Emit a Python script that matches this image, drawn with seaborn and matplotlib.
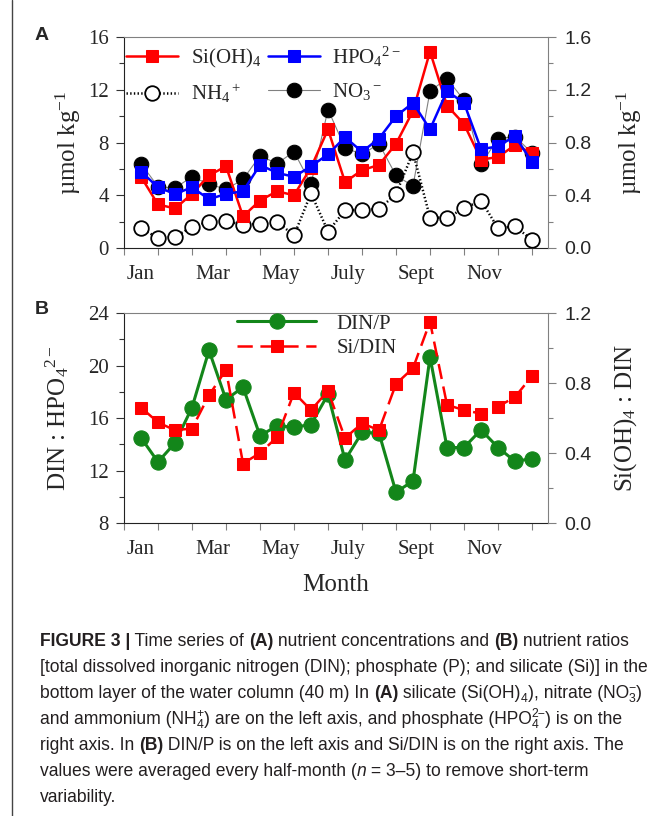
#import libraries
import seaborn as sns
import matplotlib.pyplot as plt
import numpy as np
import pandas as pd
from matplotlib.lines import Line2D
from matplotlib.ticker import FixedLocator, MultipleLocator, NullFormatter, FixedFormatter, FormatStrFormatter

#global style
sns.set_style("ticks")
plt.rcParams['font.family'] = ['Liberation Serif', 'DejaVu Serif']
plt.rcParams['mathtext.fontset'] = 'custom'
plt.rcParams['mathtext.rm'] = 'Liberation Serif'
plt.rcParams['mathtext.it'] = 'Liberation Serif:italic'
plt.rcParams['mathtext.bf'] = 'Liberation Serif:bold'
plt.rcParams['lines.scale_dashes'] = False

#data: half-month averages, Jan (first half) .. Dec (second half)
half_month = np.arange(1, 25) * 0.5
month_labels = ["Jan", "Mar", "May", "July", "Sept", "Nov"]
month_label_pos = [0.5, 2.6, 4.6, 6.6, 8.6, 10.6]

si_oh4 = [5.4, 3.3, 3.0, 4.1, 5.5, 6.2, 2.4, 3.6, 4.3, 4.0, 6.1, 9.0,
          5.0, 5.9, 6.3, 7.9, 10.4, 14.9, 10.8, 9.4, 6.7, 6.9, 7.8, 7.2]
hpo4 = [0.58, 0.46, 0.41, 0.46, 0.37, 0.41, 0.43, 0.63, 0.57, 0.54, 0.62, 0.71,
        0.84, 0.73, 0.83, 1.00, 1.10, 0.90, 1.19, 1.10, 0.75, 0.77, 0.85, 0.65]
no3 = [6.4, 4.65, 4.55, 5.4, 4.85, 4.45, 5.2, 7.0, 6.4, 7.3, 4.85, 10.5,
       7.6, 7.1, 7.9, 5.5, 4.7, 11.9, 12.85, 11.2, 6.35, 8.3, 8.45, 7.2]
nh4 = [1.5, 0.75, 0.85, 1.6, 2.0, 2.05, 1.75, 1.85, 2.0, 0.95, 4.15, 1.25,
       2.85, 2.9, 2.95, 4.1, 7.25, 2.3, 2.3, 3.0, 3.6, 1.5, 1.65, 0.6]
din_p = [14.5, 12.65, 14.1, 16.8, 21.15, 17.4, 18.35, 14.65, 15.4, 15.3, 15.5, 17.8,
         12.8, 14.9, 14.85, 10.35, 11.2, 20.65, 13.75, 13.75, 15.1, 13.75, 12.7, 12.9]
si_din = [0.66, 0.575, 0.53, 0.54, 0.73, 0.875, 0.34, 0.40, 0.49, 0.745, 0.645, 0.755,
          0.485, 0.57, 0.53, 0.795, 0.885, 1.15, 0.675, 0.645, 0.625, 0.665, 0.72, 0.84]

df_a = pd.DataFrame({"t": half_month, "si": si_oh4, "hpo4": hpo4, "no3": no3, "nh4": nh4})
df_b = pd.DataFrame({"t": half_month, "din_p": din_p, "si_din": si_din})

W, H = 668, 816
def fx(x):
    return x / W
def fy(y):
    return 1 - y / H

fig = plt.figure(figsize=(W / 100, H / 100), dpi=100)
ax_a = fig.add_axes([fx(124), fy(248), 424 / W, 211 / H])
ax_b = fig.add_axes([fx(124), fy(523), 424 / W, 210 / H])

RED = "#ff0000"
BLUE = "#0000ff"
GREEN = "#13861a"
GRAY = "#808080"

#panel A
sns.lineplot(data=df_a, x="t", y="no3", ax=ax_a, color=GRAY, lw=0.8,
             marker="o", markersize=10.5, markerfacecolor="black",
             markeredgecolor="black", legend=False)
no3_line = ax_a.lines[-1]
sns.lineplot(data=df_a, x="t", y="nh4", ax=ax_a, color="black", lw=1.8, linestyle=":",
             marker="o", markersize=10.5, markerfacecolor="white",
             markeredgecolor="black", markeredgewidth=1.3, legend=False)
nh4_line = ax_a.lines[-1]
sns.lineplot(data=df_a, x="t", y="si", ax=ax_a, color=RED, lw=1.8,
             marker="s", markersize=9, markerfacecolor=RED,
             markeredgecolor=RED, legend=False)
si_line = ax_a.lines[-1]

ax_a2 = ax_a.twinx()
sns.lineplot(data=df_a, x="t", y="hpo4", ax=ax_a2, color=BLUE, lw=1.8,
             marker="s", markersize=8, markerfacecolor=BLUE,
             markeredgecolor=BLUE, legend=False)
hpo4_line = ax_a2.lines[-1]

#panel B
sns.lineplot(data=df_b, x="t", y="din_p", ax=ax_b, color=GREEN, lw=2.2,
             marker="o", markersize=11, markerfacecolor=GREEN,
             markeredgecolor=GREEN, legend=False)
dinp_line = ax_b.lines[-1]
ax_b2 = ax_b.twinx()
sns.lineplot(data=df_b, x="t", y="si_din", ax=ax_b2, color=RED, lw=1.8,
             marker="s", markersize=9, markerfacecolor=RED,
             markeredgecolor=RED, legend=False)
sidin_line = ax_b2.lines[-1]
sidin_line.set_dashes((11, 5.5))

#axes styling
for ax, ax2, ylim, ylim2 in [(ax_a, ax_a2, (0, 16), (0, 1.6)),
                             (ax_b, ax_b2, (8, 24), (0, 1.2))]:
    ax.set_xlim(0, 12.47)
    ax.set_ylim(*ylim)
    ax2.set_ylim(*ylim2)
    ax.yaxis.set_major_locator(MultipleLocator(4))
    ax.yaxis.set_minor_locator(MultipleLocator(2))
    ax2.yaxis.set_major_locator(MultipleLocator(0.4))
    ax2.yaxis.set_minor_locator(MultipleLocator(0.2))
    ax2.yaxis.set_major_formatter(FormatStrFormatter("%.1f"))
    ax.xaxis.set_major_locator(FixedLocator(list(range(13))))
    ax.xaxis.set_major_formatter(NullFormatter())
    ax.xaxis.set_minor_locator(FixedLocator(month_label_pos))
    ax.xaxis.set_minor_formatter(FixedFormatter(month_labels))
    ax.tick_params(axis="x", which="major", direction="out", length=5, width=0.8, color=GRAY)
    ax.tick_params(axis="x", which="minor", length=0, pad=12, labelsize=15)
    ax.tick_params(axis="y", which="major", direction="out", length=6, width=0.8,
                   color="#333333", labelsize=15, pad=5)
    ax.tick_params(axis="y", which="minor", direction="out", length=3.5, width=0.8, color="#333333")
    ax2.tick_params(axis="y", which="major", direction="out", length=6, width=0.8,
                    color=GRAY, labelsize=14, pad=6)
    ax2.tick_params(axis="y", which="minor", direction="out", length=3.5, width=0.8, color=GRAY)
    for lab in ax2.get_yticklabels():
        lab.set_family("Liberation Sans")
    ax.spines["right"].set_visible(False)
    ax.spines["top"].set_color(GRAY)
    ax.spines["left"].set_color("#222222")
    ax.spines["bottom"].set_color("#222222")
    for s in ["left", "top", "bottom"]:
        ax2.spines[s].set_visible(False)
    ax2.spines["right"].set_color(GRAY)
    ax.set_xlabel("")

ax_a.set_ylabel("µmol kg$^{-1}$", fontsize=18)
ax_a.yaxis.set_label_coords(-0.097, 0.5)
ax_a2.set_ylabel("µmol kg$^{-1}$", fontsize=18, rotation=90)
ax_a2.yaxis.set_label_coords(1.158, 0.5)
ax_b.set_ylabel("DIN : HPO$_4$$^{2-}$", fontsize=18)
ax_b.yaxis.set_label_coords(-0.125, 0.5)
ax_b2.set_ylabel("Si(OH)$_4$ : DIN", fontsize=18, rotation=90)
ax_b2.yaxis.set_label_coords(1.152, 0.5)
ax_b.set_xlabel("Month", fontsize=18)
ax_b.xaxis.set_label_coords(0.5, -0.245)

#legends
leg_a = ax_a2.legend([si_line, nh4_line, hpo4_line, no3_line],
                     ["Si(OH)$_4$", "NH$_4$$^+$", "HPO$_4$$^{2-}$", "NO$_3$$^-$"],
                     ncol=2, loc="upper left", bbox_to_anchor=(0.0, 0.975),
                     frameon=False, fontsize=15, handlelength=2.5, handletextpad=0.6,
                     columnspacing=0.3, labelspacing=0.6, borderpad=0.1, borderaxespad=0)
leg_b = ax_b2.legend([dinp_line, sidin_line], ["DIN/P", "Si/DIN"],
                     loc="upper left", bbox_to_anchor=(0.262, 1.005),
                     frameon=False, fontsize=15, handlelength=3.8, handletextpad=0.95,
                     labelspacing=0.25, borderpad=0.1, borderaxespad=0)

#panel letters
fig.text(fx(42), fy(35), "A", family="Liberation Sans", weight="bold", fontsize=14,
         ha="center", va="center")
fig.text(fx(42), fy(310), "B", family="Liberation Sans", weight="bold", fontsize=14,
         ha="center", va="center")

#left frame line
fig.add_artist(Line2D([fx(12), fx(12)], [0, 1], color="#444444", lw=1))

#caption with mixed styles
renderer = fig.canvas.get_renderer()
CAP_FAMILY = ["Liberation Sans Narrow", "Liberation Sans"]
CAP_COLOR = "#231f20"

def seg_props(kind, size):
    props = dict(family=CAP_FAMILY, color=CAP_COLOR, fontsize=size)
    if kind == "b":
        props["weight"] = "bold"
    if kind == "i":
        props["style"] = "italic"
    return props

def text_width(s, props):
    t1 = fig.text(0, 0, "|" + s + "|", **props)
    t2 = fig.text(0, 0, "||", **props)
    w = t1.get_window_extent(renderer).width - t2.get_window_extent(renderer).width
    t1.remove()
    t2.remove()
    return w

def draw_line(x, y, segments, size, draw=True):
    cur = x
    for text, kind in segments:
        if kind in ("sub", "sup"):
            props = seg_props("n", size * 0.7)
            dy = -0.22 * size * 100 / 72 if kind == "sub" else 0.42 * size * 100 / 72
            w = text_width(text, props)
            if draw:
                fig.text(fx(cur), fy(y - dy), text, va="baseline", **props)
        elif kind == "subsup":
            props = seg_props("n", size * 0.7)
            w = 0
            for part, dy in [(text[0], -0.22 * size * 100 / 72), (text[1], 0.42 * size * 100 / 72)]:
                w = max(w, text_width(part, props))
                if draw:
                    fig.text(fx(cur), fy(y - dy), part, va="baseline", **props)
        else:
            props = seg_props(kind, size)
            w = text_width(text, props)
            if draw:
                fig.text(fx(cur), fy(y), text, va="baseline", **props)
        cur += w
    return cur - x

caption = [
    [("FIGURE 3 |", "b"), (" Time series of ", "n"), ("(A)", "b"),
     (" nutrient concentrations and ", "n"), ("(B)", "b"), (" nutrient ratios", "n")],
    [("[total dissolved inorganic nitrogen (DIN); phosphate (P); and silicate (Si)] in the", "n")],
    [("bottom layer of the water column (40 m) In ", "n"), ("(A)", "b"),
     (" silicate (Si(OH)", "n"), ("4", "sub"), ("), nitrate (NO", "n"),
     (("3", "\u2212"), "subsup"), (")", "n")],
    [("and ammonium (NH", "n"), (("4", "+"), "subsup"),
     (") are on the left axis, and phosphate (HPO", "n"), (("4", "2\u2212"), "subsup"),
     (") is on the", "n")],
    [("right axis. In ", "n"), ("(B)", "b"),
     (" DIN/P is on the left axis and Si/DIN is on the right axis. The", "n")],
    [("values were averaged every half-month (", "n"), ("n", "i"),
     (" = 3\u20135) to remove short-term", "n")],
    [("variability.", "n")],
]

#one font size so that the widest line fits the caption width
base = 12
widest = max(draw_line(40, 646, line, base, draw=False) for line in caption)
cap_size = base * 612 / widest
for i, line in enumerate(caption):
    draw_line(40, 646 + 26 * i, line, cap_size)

fig.savefig("out.png", dpi=100)
